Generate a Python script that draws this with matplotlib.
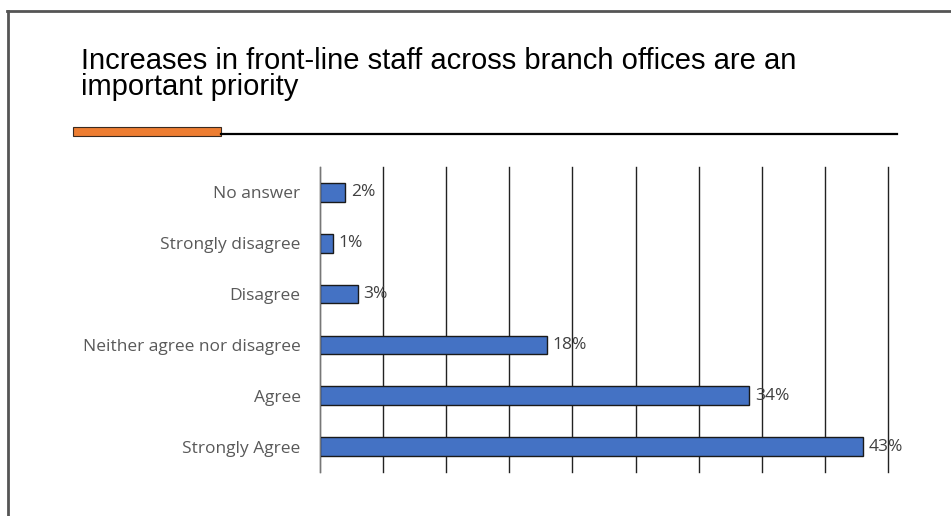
import matplotlib.pyplot as plt
from matplotlib.patches import Rectangle
from matplotlib.lines import Line2D

categories = ["Strongly Agree", "Agree", "Neither agree nor disagree",
              "Disagree", "Strongly disagree", "No answer"]
shares = [43, 34, 18, 3, 1, 2]
title_lines = ["Increases in front-line staff across branch offices are an",
               "important priority"]

W, H = 951, 516
fig = plt.figure(figsize=(W / 100, H / 100), dpi=100)

# slide frame: top and left edges only
fig.add_artist(Line2D([7 / W, 1], [1 - 11 / H, 1 - 11 / H], color="#555555", lw=2))
fig.add_artist(Line2D([8 / W, 8 / W], [1 - 11 / H, 0], color="#555555", lw=2))

# title, one baseline per line
for i, line in enumerate(title_lines):
    fig.text(81 / W, 1 - (69 + 26 * i) / H, line, ha="left", va="baseline",
             fontsize=21, family="Liberation Sans", color="black")

# underline with orange accent
fig.add_artist(Line2D([221 / W, 897 / W], [1 - 134 / H, 1 - 134 / H], color="black", lw=1.6))
fig.add_artist(Rectangle((73 / W, 1 - 135.5 / H), 148 / W, 8 / H, facecolor="#ED7D31",
                         edgecolor="#3a2a20", lw=0.8, transform=fig.transFigure))

ax = fig.add_axes([320 / W, 1 - 472 / H, (888 - 320) / W, (472 - 167) / H])
ypos = range(len(categories))
ax.barh(ypos, shares, height=0.37, color="#4472C4", edgecolor="#1a1a1a", lw=1, zorder=3)
for y, v in zip(ypos, shares):
    ax.text(v + 0.45, y, f"{v}%", va="center", ha="left", fontsize=12.5,
            family="Open Sans", color="#404040", zorder=4)

ax.set_xlim(0, 45)
ax.set_ylim(-0.5, len(categories) - 0.5)
ax.set_xticks(range(0, 46, 5))
ax.set_xticklabels([])
ax.set_yticks(list(ypos))
ax.set_yticklabels(categories, fontsize=12.5, family="Open Sans", color="#595959")
ax.tick_params(axis="both", length=0)
ax.tick_params(axis="y", pad=14)
ax.grid(axis="x", color="#222222", lw=1, zorder=0)
for gl in ax.get_xgridlines():
    gl.set_clip_on(False)
for s in ["top", "right", "bottom"]:
    ax.spines[s].set_visible(False)
ax.spines["left"].set_color("#777777")
ax.spines["left"].set_zorder(5)

fig.savefig("out.png", dpi=100)
